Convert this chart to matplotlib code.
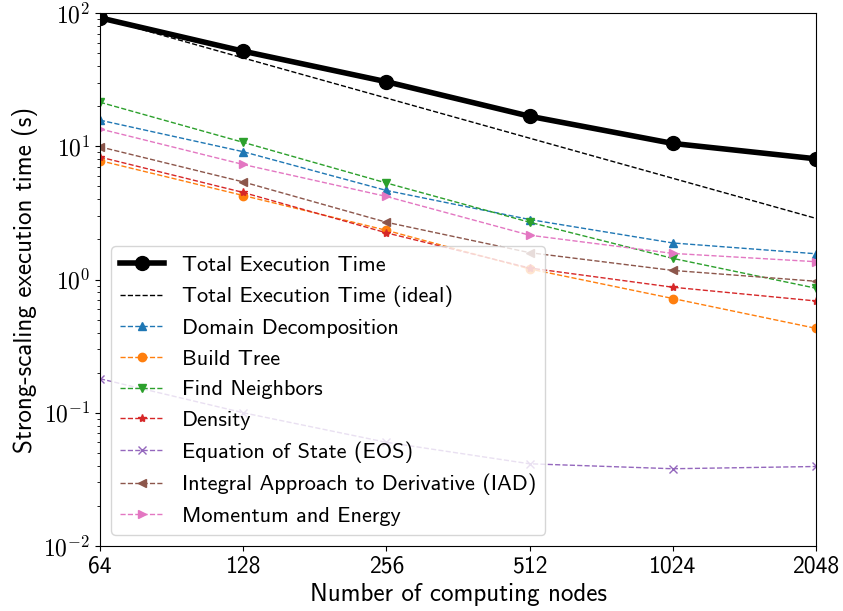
import matplotlib
matplotlib.use("Agg")
import math
import matplotlib.pyplot as plt
from matplotlib.ticker import NullLocator, FixedLocator, FuncFormatter, LogLocator

plt.rcParams['font.family'] = ['cmss10', 'DejaVu Sans']
plt.rcParams['mathtext.fontset'] = 'cm'
plt.rcParams['axes.unicode_minus'] = False

nodes = [64, 128, 256, 512, 1024, 2048]
node_labels = ["64", "128", "256", "512", "1024", "2048"]

total = [92, 51.7, 30.5, 16.8, 10.5, 8.05]
ideal_base = 92
domain = [15.7, 9.1, 4.66, 2.82, 1.88, 1.56]
build_tree = [7.8, 4.27, 2.34, 1.2, 0.72, 0.43]
find_neighbors = [21.4, 10.7, 5.3, 2.69, 1.44, 0.86]
density = [8.3, 4.5, 2.24, 1.22, 0.875, 0.69]
eos = [0.18, 0.10, 0.060, 0.0414, 0.038, 0.0395]
iad = [9.9, 5.4, 2.69, 1.59, 1.17, 0.97]
momentum = [13.5, 7.3, 4.2, 2.15, 1.57, 1.36]

ideal = [ideal_base * nodes[0] / n for n in nodes]

fig = plt.figure(figsize=(8.43, 6.11), dpi=100)
ax = fig.add_axes([0.1186, 0.1064, 0.8494, 0.8723])

ax.plot(nodes, total, 'k-o', lw=4, ms=10, label='Total Execution Time')
ax.plot(nodes, ideal, 'k--', lw=1, label='Total Execution Time (ideal)')
series = [
    (domain, '^', 'C0', 'Domain Decomposition'),
    (build_tree, 'o', 'C1', 'Build Tree'),
    (find_neighbors, 'v', 'C2', 'Find Neighbors'),
    (density, '*', 'C3', 'Density'),
    (eos, 'x', 'C4', 'Equation of State (EOS)'),
    (iad, '<', 'C5', 'Integral Approach to Derivative (IAD)'),
    (momentum, '>', 'C6', 'Momentum and Energy'),
]
for vals, m, c, lab in series:
    ax.plot(nodes, vals, linestyle='--', marker=m, color=c, lw=1, ms=6, label=lab)

ax.set_xscale('log', base=2)
ax.set_yscale('log')
ax.set_xlim(64, 2048)
ax.set_ylim(1e-2, 1e2)
ax.xaxis.set_major_locator(FixedLocator(nodes))
ax.set_xticklabels(node_labels)
ax.xaxis.set_minor_locator(NullLocator())
ax.yaxis.set_major_locator(LogLocator(base=10))
ax.yaxis.set_major_formatter(FuncFormatter(lambda v, p: r'$10^{%d}$' % round(math.log10(v))))
ax.tick_params(axis='both', labelsize=17)

ax.set_xlabel('Number of computing nodes', fontsize=18)
ax.set_ylabel('Strong-scaling execution time (s)', fontsize=18)

ax.legend(loc='lower left', fontsize=16)

fig.savefig('out.png', dpi=100)
